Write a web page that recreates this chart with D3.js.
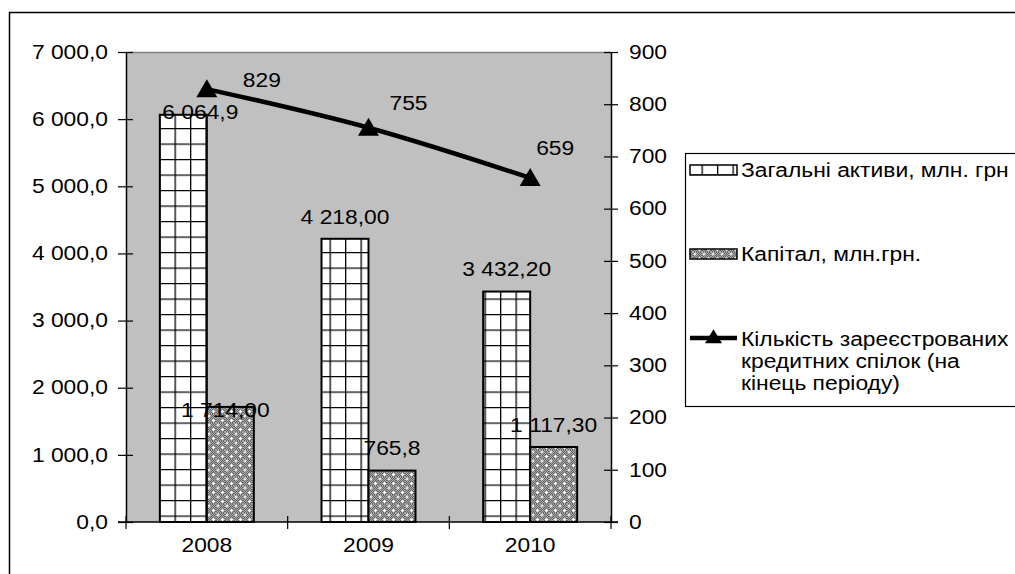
<!DOCTYPE html>
<html>
<head>
<meta charset="utf-8">
<script src="https://cdn.jsdelivr.net/npm/d3@7/dist/d3.min.js"></script>
<style>
  html, body { margin: 0; padding: 0; background: #fff; overflow: hidden; }
  svg { display: block; }
  text { font-family: "Liberation Sans", Arial, sans-serif; fill: #000; }
</style>
</head>
<body>
<svg id="chart" width="1015" height="574"></svg>
<script>
// ---- data ----
const years = ["2008", "2009", "2010"];
const assets = [6064.9, 4218.0, 3432.2];          // загальні активи, млн. грн
const assetsDecimals = [1, 2, 2];
const capital = [1714.0, 765.8, 1117.3];          // капітал, млн. грн
const capitalDecimals = [2, 1, 2];
const unions = [829, 755, 659];                   // кількість кредитних спілок
const leftTicks = [0, 1000, 2000, 3000, 4000, 5000, 6000, 7000];
const rightTicks = [0, 100, 200, 300, 400, 500, 600, 700, 800, 900];
const seriesNames = [
  "Загальні активи, млн. грн",
  "Капітал, млн.грн.",
  "Кількість зареєстрованих кредитних спілок (на кінець періоду)"
];

const svg = d3.select("#chart");
const FS = 19.5;
const SX = 1.17; // wide lettering

// turn x/y positioned text into a horizontally widened glyph run
function widen(sel) {
  sel.each(function () {
    const t = d3.select(this);
    const tx = +t.attr("x") || 0, ty = +t.attr("y") || 0;
    t.attr("x", 0).attr("y", 0).attr("transform", `translate(${tx},${ty}) scale(${SX},1)`);
  });
}

const uaLocale = d3.formatLocale({ decimal: ",", thousands: "\u00a0", grouping: [3], currency: ["", ""] });
const fmt = d => uaLocale.format(",." + d + "f");

// ---- layout ----
const plot = { left: 126, right: 611, top: 52, bottom: 522 };

const x = d3.scaleBand().domain(years).range([plot.left, plot.right]);
const xInner = d3.scaleBand().domain(["a", "c"]).range([0, x.bandwidth()]).paddingInner(0).paddingOuter(0.72);
const yL = d3.scaleLinear().domain([0, 7000]).range([plot.bottom, plot.top]);
const yR = d3.scaleLinear().domain([0, 900]).range([plot.bottom, plot.top]);

// ---- fill patterns ----
const defs = svg.append("defs");
const grid = defs.append("pattern").attr("id", "gridFill")
  .attr("patternUnits", "userSpaceOnUse").attr("width", 15.5).attr("height", 15.5)
  .attr("x", 159).attr("y", 4);
grid.append("rect").attr("width", 15.5).attr("height", 15.5).attr("fill", "#fff");
grid.append("path").attr("d", "M0,0H15.5M0,0V15.5").attr("stroke", "#000").attr("stroke-width", 2.6).attr("fill", "none");

const dots = defs.append("pattern").attr("id", "dotFill")
  .attr("patternUnits", "userSpaceOnUse").attr("width", 9).attr("height", 9);
dots.append("rect").attr("width", 9).attr("height", 9).attr("fill", "#666");
for (let i = 0; i < 9; i++) {
  for (let j = 0; j < 9; j++) {
    if ((i + j) % 2 === 0) dots.append("rect").attr("x", i).attr("y", j).attr("width", 1).attr("height", 1).attr("fill", "#a8a8a8");
  }
}
[[2, 2], [6.5, 6.5]].forEach(([cx, cy]) => {
  dots.append("path").attr("d", `M${cx - 1.5},${cy}H${cx + 1.5}M${cx},${cy - 1.5}V${cy + 1.5}`)
    .attr("stroke", "#fff").attr("stroke-width", 1.1);
});

// ---- outer frame ----
svg.append("rect").attr("x", 9.5).attr("y", 12.5).attr("width", 1040).attr("height", 600)
  .attr("fill", "#fff").attr("stroke", "#000").attr("stroke-width", 1.5);

// ---- plot area ----
svg.append("rect").attr("x", plot.left).attr("y", plot.top)
  .attr("width", plot.right - plot.left).attr("height", plot.bottom - plot.top)
  .attr("fill", "#c0c0c0");
svg.append("line").attr("x1", plot.left).attr("x2", plot.right)
  .attr("y1", plot.top + 0.5).attr("y2", plot.top + 0.5).attr("stroke", "#808080").attr("stroke-width", 1.5);

// ---- bars ----
const bars = svg.append("g");
years.forEach((yr, i) => {
  const x0 = x(yr);
  bars.append("rect")
    .attr("x", x0 + xInner("a")).attr("y", yL(assets[i]))
    .attr("width", xInner.bandwidth()).attr("height", yL(0) - yL(assets[i]))
    .attr("fill", "url(#gridFill)").attr("stroke", "#000").attr("stroke-width", 2);
  bars.append("rect")
    .attr("x", x0 + xInner("c")).attr("y", yL(capital[i]))
    .attr("width", xInner.bandwidth()).attr("height", yL(0) - yL(capital[i]))
    .attr("fill", "url(#dotFill)").attr("stroke", "#000").attr("stroke-width", 2);
});

// ---- axes ----
const axL = svg.append("g").attr("transform", `translate(${plot.left},0)`)
  .call(d3.axisLeft(yL).tickValues(leftTicks).tickFormat(fmt(1)).tickSizeInner(8).tickSizeOuter(0).tickPadding(10));
axL.selectAll(".tick line").attr("x2", -8).attr("x1", 7);
const axR = svg.append("g").attr("transform", `translate(${plot.right},0)`)
  .call(d3.axisRight(yR).tickValues(rightTicks).tickFormat(d3.format("d")).tickSizeInner(7).tickSizeOuter(0).tickPadding(11));
axR.selectAll(".tick line").attr("x1", -7);
const axB = svg.append("g").attr("transform", `translate(0,${plot.bottom})`)
  .call(d3.axisBottom(x).tickSize(0).tickPadding(16));
[axL, axR, axB].forEach(a => {
  a.select(".domain").attr("stroke", "#000").attr("stroke-width", 1.5);
  a.selectAll(".tick line").attr("stroke", "#000").attr("stroke-width", 1.2);
  a.selectAll("text").attr("font-size", FS).attr("font-family", "Liberation Sans, Arial, sans-serif").attr("fill", "#000")
    .call(widen);
});
axB.select(".domain").attr("d", `M${plot.left - 8},0H${plot.right + 7}`);
// category separators across the bottom axis
const seps = [plot.left, plot.left + x.step(), plot.left + 2 * x.step(), plot.right];
axB.selectAll(".sep").data(seps).join("line").attr("class", "sep")
  .attr("x1", d => d).attr("x2", d => d).attr("y1", -6).attr("y2", 7)
  .attr("stroke", "#000").attr("stroke-width", 1.2);

// ---- line series ----
const cx = yr => x(yr) + x.bandwidth() / 2;
const linePts = years.map((yr, i) => [cx(yr), yR(unions[i])]);
svg.append("path").attr("d", d3.line().curve(d3.curveCatmullRom.alpha(0.5))(linePts))
  .attr("fill", "none").attr("stroke", "#000").attr("stroke-width", 4.5);
const tri = (px, py, w, h) => `M${px},${py - h * 0.55}L${px + w / 2},${py + h * 0.45}L${px - w / 2},${py + h * 0.45}Z`;
svg.append("g").selectAll("path").data(linePts).join("path")
  .attr("d", d => tri(d[0], d[1], 21, 18)).attr("fill", "#000");

// ---- data labels ----
const lbl = svg.append("g").attr("font-size", FS).attr("text-anchor", "middle");
const assetShift = [[17, 19], [0, 0], [0, 0]];
const capShift = [[-5, 25], [0, 0], [0, 0]];
years.forEach((yr, i) => {
  const ax = x(yr) + xInner("a") + xInner.bandwidth() / 2;
  lbl.append("text").attr("x", ax + assetShift[i][0]).attr("y", yL(assets[i]) - 22 + assetShift[i][1])
    .attr("dy", "0.35em").text(fmt(assetsDecimals[i])(assets[i]));
  const kx = x(yr) + xInner("c") + xInner.bandwidth() / 2;
  lbl.append("text").attr("x", kx + capShift[i][0]).attr("y", yL(capital[i]) - 22 + capShift[i][1])
    .attr("dy", "0.35em").text(fmt(capitalDecimals[i])(capital[i]));
});
const unionShift = [[55, -9], [40, -25], [25, -30]];
linePts.forEach((p, i) => {
  lbl.append("text").attr("x", p[0] + unionShift[i][0]).attr("y", p[1] + unionShift[i][1])
    .attr("dy", "0.35em").text(unions[i]);
});
lbl.selectAll("text").call(widen);

// ---- legend ----
const lg = svg.append("g");
lg.append("rect").attr("x", 685.5).attr("y", 153.5).attr("width", 400).attr("height", 253)
  .attr("fill", "#fff").attr("stroke", "#000").attr("stroke-width", 1.2);
const sw = { x: 690, w: 47 };
lg.append("rect").attr("x", sw.x).attr("y", 165).attr("width", sw.w).attr("height", 10)
  .attr("fill", "url(#gridFill)").attr("stroke", "#000").attr("stroke-width", 1.5);
lg.append("rect").attr("x", sw.x).attr("y", 249).attr("width", sw.w).attr("height", 10)
  .attr("fill", "url(#dotFill)").attr("stroke", "#000").attr("stroke-width", 1.5);
lg.append("line").attr("x1", sw.x).attr("x2", sw.x + sw.w).attr("y1", 338).attr("y2", 338)
  .attr("stroke", "#000").attr("stroke-width", 4.5);
lg.append("path").attr("d", tri(sw.x + sw.w / 2, 337, 17, 14)).attr("fill", "#000");
const lt = lg.append("g").attr("font-size", FS);
lt.append("text").attr("x", 741).attr("y", 170).attr("dy", "0.35em").text(seriesNames[0]);
lt.append("text").attr("x", 741).attr("y", 254).attr("dy", "0.35em").text(seriesNames[1]);
const wrapLines = ["Кількість зареєстрованих", "кредитних спілок (на", "кінець періоду)"];
wrapLines.forEach((s, k) => {
  lt.append("text").attr("x", 741).attr("y", 339 + k * 22).attr("dy", "0.35em").text(s);
});
lt.selectAll("text").call(widen);
</script>
</body>
</html>
